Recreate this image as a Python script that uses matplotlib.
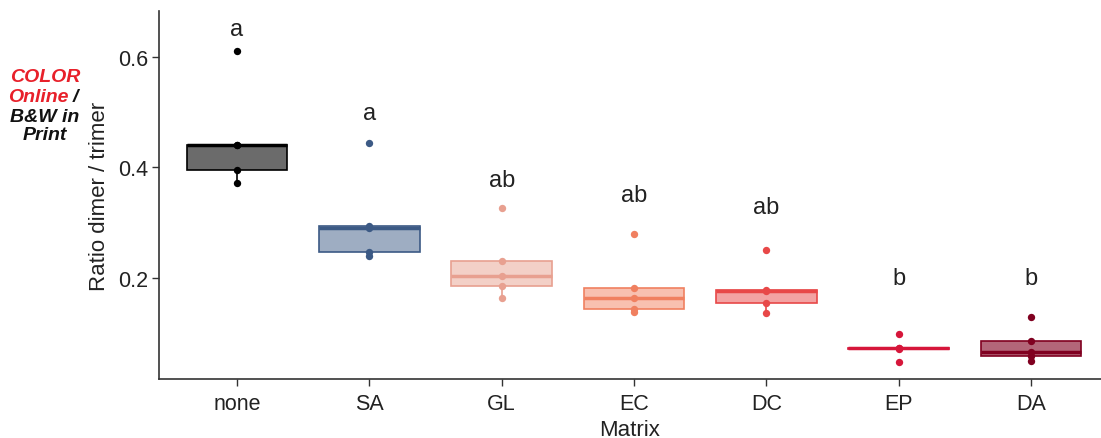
import matplotlib.pyplot as plt
import numpy as np

plt.rcParams['font.family'] = ['Liberation Sans', 'DejaVu Sans']

# data
matrices = ["none", "SA", "GL", "EC", "DC", "EP", "DA"]
ratio_none = [0.611, 0.441, 0.440, 0.396, 0.372]
ratio_sa = [0.444, 0.294, 0.291, 0.247, 0.240]
ratio_gl = [0.327, 0.231, 0.204, 0.186, 0.164]
ratio_ec = [0.279, 0.181, 0.164, 0.143, 0.138]
ratio_dc = [0.251, 0.178, 0.176, 0.155, 0.136]
ratio_ep = [0.099, 0.073, 0.073, 0.072, 0.048]
ratio_da = [0.130, 0.086, 0.066, 0.058, 0.050]
groups = ["a", "a", "ab", "ab", "ab", "b", "b"]
group_y = [0.651, 0.499, 0.377, 0.350, 0.328, 0.200, 0.200]

colors = ["#000000", "#3c5a85", "#e8a090", "#f08060", "#e84848", "#d6163a", "#800020"]
fill_alpha = [0.58, 0.5, 0.5, 0.5, 0.5, 0.5, 0.6]

series = [ratio_none, ratio_sa, ratio_gl, ratio_ec, ratio_dc, ratio_ep, ratio_da]

fig = plt.figure(figsize=(11.01, 4.39), dpi=100)
ax = fig.add_axes([0.1444, 0.1344, 0.8556, 0.8383])

pos = np.arange(len(matrices))
for i, (vals, c) in enumerate(zip(series, colors)):
    bp = ax.boxplot([vals], positions=[i], widths=0.76, patch_artist=True,
                    showfliers=False, showcaps=False, whis=1.5)
    r, g, bl = plt.matplotlib.colors.to_rgb(c)
    a = fill_alpha[i]
    for b in bp["boxes"]:
        b.set_facecolor((r * a + 1 - a, g * a + 1 - a, bl * a + 1 - a))
        b.set_edgecolor(c)
        b.set_linewidth(1.2)
    for m in bp["medians"]:
        m.set_color(c)
        m.set_linewidth(2.5)
    for w in bp["whiskers"]:
        w.set_color(c)
        w.set_linewidth(1.2)
    ax.scatter([i] * len(vals), vals, s=28, color=c, zorder=4, linewidths=0)
    ax.text(i, group_y[i], groups[i], ha="center", va="center", fontsize=17, color="#222222")

ax.set_xlim(-0.59, 6.53)
ax.set_ylim(0.017, 0.683)
ax.set_xticks(pos)
ax.set_xticklabels(matrices)
ax.set_yticks([0.2, 0.4, 0.6])
ax.set_yticklabels(["0.2", "0.4", "0.6"])
ax.tick_params(labelsize=15.5, colors="#333333", labelcolor="#222222", length=5, width=1)
ax.tick_params(axis="x", pad=5)
ax.tick_params(axis="y", pad=2.5)
for s in ["top", "right"]:
    ax.spines[s].set_visible(False)
for s in ["left", "bottom"]:
    ax.spines[s].set_color("#333333")
    ax.spines[s].set_linewidth(1.2)

ax.set_xlabel("Matrix", fontsize=16, color="#222222", labelpad=3.5)
ax.set_ylabel("Ratio dimer / trimer", fontsize=16, color="#222222", labelpad=6)

# colour note at the left
W, H = 1101, 439
kw = dict(fontsize=14, fontweight="bold", fontstyle="italic", va="center")
fig.text(45 / W, 1 - 78 / H, "COLOR", color="#e8202a", ha="center", **kw)
fig.text(69 / W, 1 - 97 / H, "Online", color="#e8202a", ha="right", **kw)
fig.text(73 / W, 1 - 97 / H, "/", color="#111111", ha="left", **kw)
fig.text(45 / W, 1 - 117 / H, "B&W in", color="#111111", ha="center", **kw)
fig.text(45 / W, 1 - 136 / H, "Print", color="#111111", ha="center", **kw)

fig.savefig("out.png", dpi=100)
